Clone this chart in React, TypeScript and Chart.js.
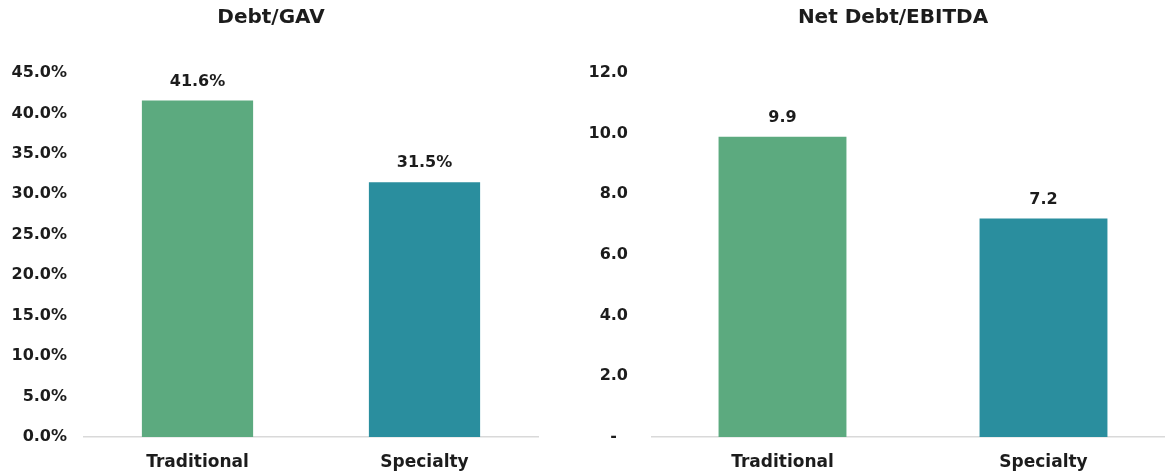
import React, { useEffect, useRef } from "react";
import { Chart, registerables } from "chart.js";

Chart.register(...registerables);

const categories = ["Traditional", "Specialty"];
const debtGavValues = [41.6, 31.5];
const netDebtEbitdaValues = [9.9, 7.2];
const barColors = ["#5CAA7F", "#2A8E9E"];
const debtGavTitle = "Debt/GAV";
const netDebtTitle = "Net Debt/EBITDA";

const FONT = "'DejaVu Sans', sans-serif";
const TEXT = "#1c1c1c";

const valueLabelPlugin = {
  id: "valueLabels",
  afterDatasetsDraw(chart: any, _args: any, opts: any) {
    const ctx = chart.ctx;
    const meta = chart.getDatasetMeta(0);
    const data = chart.data.datasets[0].data as number[];
    ctx.save();
    ctx.font = `bold 16px ${FONT}`;
    ctx.fillStyle = TEXT;
    ctx.textAlign = "center";
    ctx.textBaseline = "middle";
    meta.data.forEach((bar: any, i: number) => {
      ctx.fillText(opts.format(data[i]), bar.x, bar.y - 19);
    });
    ctx.restore();
  },
};

const panelTitlePlugin = {
  id: "panelTitle",
  afterDraw(chart: any, _args: any, opts: any) {
    const ctx = chart.ctx;
    ctx.save();
    ctx.font = `bold 20px ${FONT}`;
    ctx.fillStyle = TEXT;
    ctx.textAlign = "center";
    ctx.textBaseline = "middle";
    ctx.fillText(opts.text, opts.x, 18);
    ctx.restore();
  },
};

function makeConfig(
  title: string,
  titleX: number,
  values: number[],
  max: number,
  step: number,
  tickFmt: (v: number) => string,
  labelFmt: (v: number) => string,
  padRight: number,
  yWidth: number,
  yPad: number
): any {
  return {
    type: "bar",
    data: {
      labels: categories,
      datasets: [
        {
          data: values,
          backgroundColor: barColors,
          borderWidth: 0,
          barPercentage: 1,
          categoryPercentage: 0.49,
        },
      ],
    },
    plugins: [valueLabelPlugin, panelTitlePlugin],
    options: {
      responsive: false,
      animation: false,
      layout: { padding: { left: 0, right: padRight, top: 73, bottom: 0 } },
      plugins: {
        legend: { display: false },
        tooltip: { enabled: false },
        title: { display: false },
        valueLabels: { format: labelFmt },
        panelTitle: { text: title, x: titleX },
      },
      scales: {
        x: {
          grid: { display: false, drawTicks: false },
          border: { display: true, color: "#d9d9d9", width: 1.5 },
          ticks: {
            color: TEXT,
            font: { family: FONT, size: 17, weight: "bold" },
            padding: 15,
          },
          afterFit(scale: any) {
            scale.height = 37;
          },
        },
        y: {
          min: 0,
          max,
          grid: { display: false, drawTicks: false },
          border: { display: false },
          ticks: {
            stepSize: step,
            color: TEXT,
            font: { family: FONT, size: 16, weight: "bold" },
            padding: yPad,
            callback: (v: any) => tickFmt(Number(v)),
          },
          afterFit(scale: any) {
            scale.width = yWidth;
          },
        },
      },
    },
  };
}

function ChartCanvas({ config, width, height }: { config: any; width: number; height: number }) {
  const ref = useRef<HTMLCanvasElement | null>(null);
  useEffect(() => {
    if (!ref.current) return;
    const chart = new Chart(ref.current, config);
    return () => chart.destroy();
  }, [config]);
  return <canvas ref={ref} width={width} height={height} style={{ display: "block" }} />;
}

const leftConfig = makeConfig(
  debtGavTitle,
  271,
  debtGavValues,
  45,
  5,
  (v) => v.toFixed(1) + "%",
  (v) => v.toFixed(1) + "%",
  2,
  84,
  17
);

const rightConfig = makeConfig(
  netDebtTitle,
  313,
  netDebtEbitdaValues,
  12,
  2,
  (v) => (v === 0 ? "-  " : v.toFixed(1)),
  (v) => v.toFixed(1),
  0,
  72,
  24
);

export default function App() {
  return (
    <div
      style={{
        position: "absolute",
        left: 0,
        top: 0,
        width: 1165,
        height: 474,
        overflow: "hidden",
        background: "#ffffff",
      }}
    >
      <div style={{ position: "absolute", left: 0, top: 0 }}>
        <ChartCanvas config={leftConfig} width={540} height={474} />
      </div>
      <div style={{ position: "absolute", left: 580, top: 0 }}>
        <ChartCanvas config={rightConfig} width={594} height={474} />
      </div>
    </div>
  );
}
